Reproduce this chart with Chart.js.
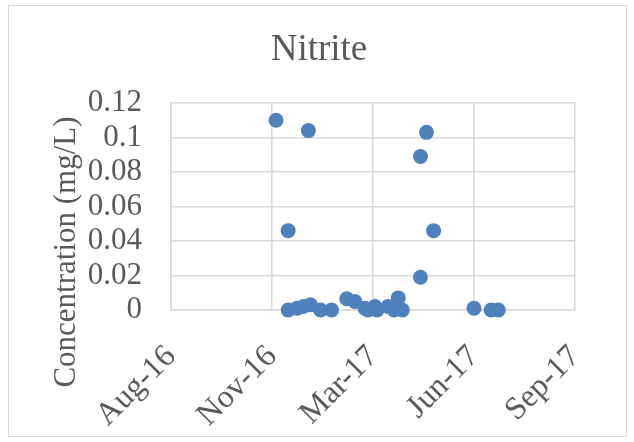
<!DOCTYPE html>
<html>
<head>
<meta charset="utf-8">
<script src="https://cdn.jsdelivr.net/npm/chart.js@4"></script>
<style>
  html, body { margin: 0; padding: 0; background: #fff; }
  #wrap { width: 634px; height: 442px; position: relative; }
</style>
</head>
<body>
<div id="wrap"><canvas id="nitriteChart" width="634" height="442"></canvas></div>
<script>
// sample dates and nitrite readings (mg/L)
const sampleDates = [
    '2016-11-30', '2016-12-12', '2016-12-12', '2016-12-21', '2016-12-27',
    '2017-01-01', '2017-01-03', '2017-01-13', '2017-01-24', '2017-02-08',
    '2017-02-16', '2017-02-26', '2017-03-01', '2017-03-08', '2017-03-10',
    '2017-03-21', '2017-03-27', '2017-03-31', '2017-04-04', '2017-04-22',
    '2017-04-22', '2017-04-28', '2017-05-05', '2017-06-14', '2017-07-01',
    '2017-07-08'
];
const nitrite = [
    0.110, 0.046, 0, 0.001, 0.002,
    0.104, 0.003, 0, 0, 0.0065,
    0.005, 0.001, 0, 0.002, 0,
    0.002, 0, 0.007, 0, 0.089,
    0.019, 0.103, 0.046, 0.001, 0,
    0
];

// axis range as Excel date serials (Aug-16 .. Sep-17, every 100 days)
const xMin = 42600;
const xMax = 43000;
const xStep = 100;
const yMax = 0.12;
const yStep = 0.02;

const monthNames = ['Jan', 'Feb', 'Mar', 'Apr', 'May', 'Jun', 'Jul', 'Aug', 'Sep', 'Oct', 'Nov', 'Dec'];
const excelEpoch = Date.UTC(1899, 11, 30);

function toSerial(s) {
    const p = s.split('-').map(Number);
    return (Date.UTC(p[0], p[1] - 1, p[2]) - excelEpoch) / 86400000;
}
function serialLabel(v) {
    const d = new Date(excelEpoch + v * 86400000);
    return monthNames[d.getUTCMonth()] + '-' + String(d.getUTCFullYear()).slice(2);
}

const points = sampleDates.map((d, i) => ({ x: toSerial(d), y: nitrite[i] }));

const serif = '"Liberation Serif", "Times New Roman", serif';
const textColor = '#595959';
const gridColor = '#d9d9d9';

// outer chart frame, centred title and rotated y axis title
const framePlugin = {
    id: 'frame',
    beforeDraw(chart) {
        const ctx = chart.ctx;
        ctx.save();
        ctx.strokeStyle = gridColor;
        ctx.lineWidth = 1;
        ctx.strokeRect(8.5, 5.5, 618, 431);
        ctx.restore();
    },
    afterDraw(chart) {
        const ctx = chart.ctx;
        ctx.save();
        ctx.fillStyle = textColor;
        ctx.textAlign = 'center';
        ctx.textBaseline = 'alphabetic';
        ctx.font = '37px ' + serif;
        ctx.fillText('Nitrite', 319, 60);

        ctx.translate(75, 252);
        ctx.rotate(-Math.PI / 2);
        ctx.font = '31px ' + serif;
        ctx.fillText('Concentration (mg/L)', 0, 0);
        ctx.restore();
    }
};

new Chart(document.getElementById('nitriteChart').getContext('2d'), {
    type: 'scatter',
    data: {
        datasets: [{
            label: 'Nitrite',
            data: points,
            backgroundColor: '#4f81bd',
            borderWidth: 0,
            pointRadius: 7.5,
            pointHoverRadius: 7.5,
            clip: false
        }]
    },
    options: {
        responsive: false,
        animation: false,
        layout: { padding: { top: 103, right: 59, bottom: 0, left: 0 } },
        plugins: {
            legend: { display: false },
            tooltip: { enabled: false },
            title: { display: false }
        },
        scales: {
            x: {
                type: 'linear',
                min: xMin,
                max: xMax,
                afterFit: s => { s.height = 132; },
                afterBuildTicks: s => {
                    s.ticks = [];
                    for (let v = xMin; v <= xMax; v += xStep) s.ticks.push({ value: v });
                },
                ticks: {
                    stepSize: xStep,
                    autoSkip: false,
                    minRotation: 45,
                    maxRotation: 45,
                    padding: 28,
                    color: textColor,
                    font: { family: serif, size: 32 },
                    callback: v => serialLabel(v)
                },
                grid: { color: gridColor, lineWidth: 1.5, drawTicks: false },
                border: { color: gridColor, width: 1.5 }
            },
            y: {
                min: 0,
                max: yMax,
                afterFit: s => { s.width = 171; },
                ticks: {
                    stepSize: yStep,
                    autoSkip: false,
                    padding: 29,
                    color: textColor,
                    font: { family: serif, size: 31 },
                    callback: v => String(+v.toFixed(2))
                },
                grid: { color: gridColor, lineWidth: 1.5, drawTicks: false },
                border: { color: gridColor, width: 1.5 }
            }
        }
    },
    plugins: [framePlugin]
});
</script>
</body>
</html>
